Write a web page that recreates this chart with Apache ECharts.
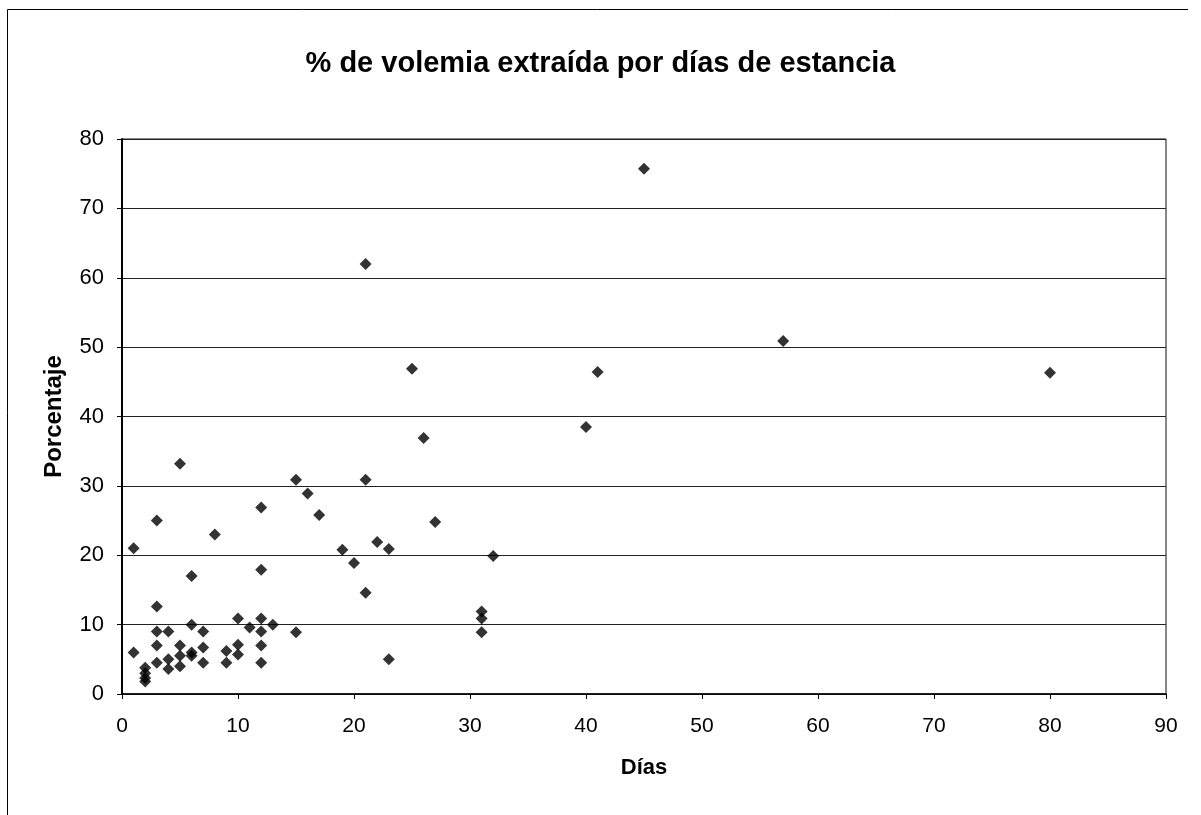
<!DOCTYPE html>
<html>
<head>
<meta charset="utf-8">
<script src="https://cdn.jsdelivr.net/npm/echarts@6/dist/echarts.min.js"></script>
<style>
  html, body { margin: 0; padding: 0; background: #fff; }
</style>
</head>
<body>
<div id="main" style="width: 1201px;height:815px"></div>
<script>
// días de estancia / % de volemia extraída
const dias = [
  1, 1,
  2, 2, 2, 2,
  3, 3, 3, 3, 3,
  4, 4, 4,
  5, 5, 5, 5,
  6, 6, 6, 6,
  7, 7, 7,
  8,
  9, 9,
  10, 10, 10,
  11,
  12, 12, 12, 12, 12, 12,
  13,
  15, 15,
  16, 17, 19, 20,
  21, 21, 21,
  22,
  23, 23,
  25, 26, 27,
  31, 31, 31,
  32,
  40, 41, 45, 57, 80
];
const porcentaje = [
  21, 6,
  3.8, 3, 2.3, 1.8,
  25, 12.6, 9, 7, 4.5,
  9, 5, 3.6,
  33.2, 7, 5.5, 4,
  17, 10, 6, 5.5,
  9, 6.7, 4.5,
  23,
  6.2, 4.5,
  10.9, 7.1, 5.7,
  9.6,
  26.9, 17.9, 10.9, 9, 7, 4.5,
  10,
  30.9, 8.9,
  28.9, 25.8, 20.8, 18.9,
  62, 30.9, 14.6,
  21.9,
  20.9, 5,
  46.9, 36.9, 24.8,
  11.9, 10.9, 8.9,
  19.9,
  38.5, 46.4, 75.7, 50.9, 46.3
];
const xTicks = [0, 90, 10];
const yTicks = [0, 80, 10];

const chart = echarts.init(document.getElementById('main'));
const points = dias.map((d, i) => [d, porcentaje[i]]);
const font = 'Liberation Sans, Arial, sans-serif';

const option = {
  backgroundColor: '#fff',
  animation: false,
  title: {
    text: '% de volemia extraída por días de estancia',
    left: 'center',
    top: 44,
    textStyle: {
      color: '#000',
      fontFamily: font,
      fontWeight: 'bold',
      fontSize: 29
    }
  },
  // marco exterior (solo se ven el borde izquierdo y el superior)
  graphic: [{
    type: 'polyline',
    shape: { points: [[7.5, 815], [7.5, 9.5], [1188, 9.5]] },
    style: { fill: 'none', stroke: '#000', lineWidth: 1 }
  }],
  grid: {
    left: 122,
    right: 35,
    top: 139,
    bottom: 121,
    show: true,
    borderColor: '#111',
    borderWidth: 1
  },
  xAxis: {
    type: 'value',
    min: xTicks[0],
    max: xTicks[1],
    interval: xTicks[2],
    name: 'Días',
    nameLocation: 'middle',
    nameGap: 63,
    nameTextStyle: { color: '#000', fontFamily: font, fontWeight: 'bold', fontSize: 22 },
    axisLine: { lineStyle: { color: '#000', width: 1.5 } },
    axisTick: { show: true, length: 5, lineStyle: { color: '#000' } },
    axisLabel: { color: '#000', fontFamily: font, fontSize: 21, margin: 22 },
    splitLine: { show: false }
  },
  yAxis: {
    type: 'value',
    min: yTicks[0],
    max: yTicks[1],
    interval: yTicks[2],
    name: 'Porcentaje',
    nameLocation: 'middle',
    nameGap: 56,
    nameTextStyle: { color: '#000', fontFamily: font, fontWeight: 'bold', fontSize: 24 },
    axisLine: { lineStyle: { color: '#000', width: 2 } },
    axisTick: { show: true, length: 5, lineStyle: { color: '#000' } },
    axisLabel: { color: '#000', fontFamily: font, fontSize: 22, margin: 18 },
    splitLine: { show: true, lineStyle: { color: '#222', width: 1 } }
  },
  series: [{
    type: 'scatter',
    symbol: 'diamond',
    symbolSize: 12,
    itemStyle: { color: '#000' },
    data: points
  }]
};
chart.setOption(option);
</script>
</body>
</html>
